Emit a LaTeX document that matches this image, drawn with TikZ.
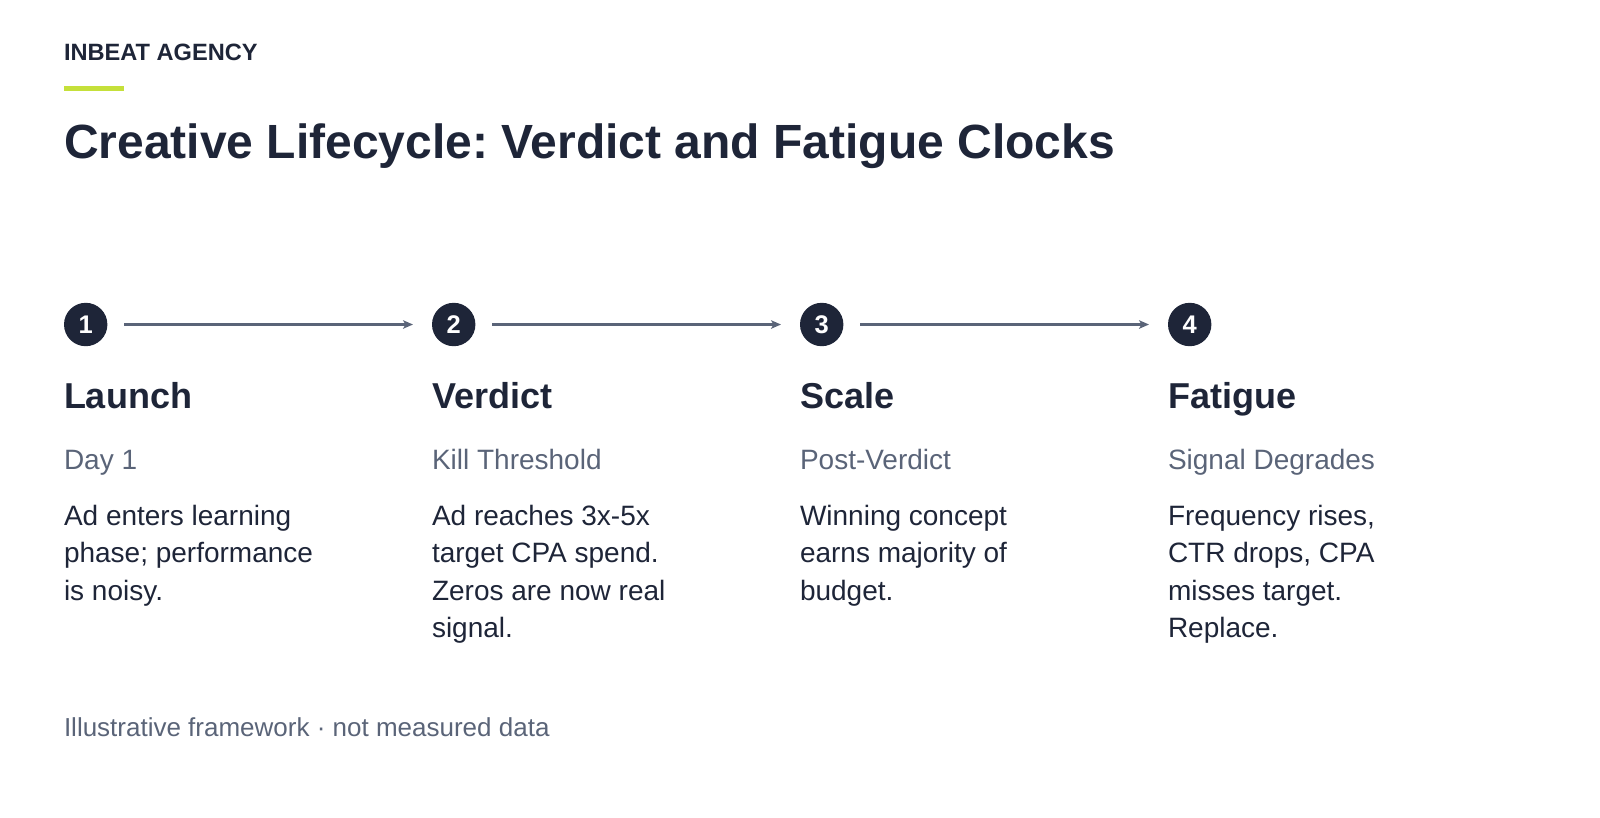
\documentclass[tikz,border=0pt]{standalone}
\usepackage{fontspec}
\setmainfont{Liberation Sans}
\usetikzlibrary{arrows.meta}
\definecolor{ink}{HTML}{1E2538}
\definecolor{muted}{HTML}{5A6478}
\definecolor{lime}{HTML}{C5E03A}
\frenchspacing
\tikzset{
  txt/.style={anchor=base west, inner sep=0pt, outer sep=0pt, text=ink},
  stepnum/.style={circle, fill=ink, minimum size=43.4pt, inner sep=0pt, text=white, font=\fontsize{25.5}{30}\selectfont\bfseries},
  stephead/.style={txt, font=\fontsize{36}{42}\selectfont\bfseries},
  stepsub/.style={txt, text=muted, font=\fontsize{28}{33}\selectfont},
  stepbody/.style={inner sep=0pt, outer sep=0pt, text=ink, anchor=north west, align=left, font=\fontsize{28}{37.5}\selectfont},
  flow/.style={draw=muted, line width=2.6pt, -{Stealth[length=10pt,width=8.5pt,inset=2.5pt]}},
}
\newcommand{\firstline}{\rule{0pt}{25pt}}
\begin{document}
\begin{tikzpicture}[x=1pt,y=-1pt]
\useasboundingbox (0,0) rectangle (1600,817);
\node[txt, font=\fontsize{23.6}{28}\selectfont\bfseries] (brand) at (64,60) {INBEAT AGENCY};
\fill[lime] (64,86) rectangle (124,91);
\node[txt, font=\fontsize{48}{56}\selectfont\bfseries] (title) at (64,158) {Creative Lifecycle: Verdict and Fatigue Clocks};

\node[stepnum] (c1) at (85.7,324.5) {1};
\node[stepnum] (c2) at (453.7,324.5) {2};
\node[stepnum] (c3) at (821.7,324.5) {3};
\node[stepnum] (c4) at (1189.7,324.5) {4};
\coordinate (a1s) at (124,324.5); \coordinate (a1e) at (413,324.5);
\coordinate (a2s) at (492,324.5); \coordinate (a2e) at (781,324.5);
\coordinate (a3s) at (860,324.5); \coordinate (a3e) at (1149,324.5);
\draw[flow] (a1s) -- (a1e);
\draw[flow] (a2s) -- (a2e);
\draw[flow] (a3s) -- (a3e);

\node[stephead] (h1) at (64,408) {Launch};
\node[stephead] (h2) at (432,408) {Verdict};
\node[stephead] (h3) at (800,408) {Scale};
\node[stephead] (h4) at (1168,408) {Fatigue};

\node[stepsub] (s1) at (64,469) {Day 1};
\node[stepsub] (s2) at (432,469) {Kill Threshold};
\node[stepsub] (s3) at (800,469) {Post-Verdict};
\node[stepsub] (s4) at (1168,469) {Signal Degrades};

\node[stepbody] (b1) at (64,500) {\firstline Ad enters learning\\phase; performance\\is noisy.};
\node[stepbody] (b2) at (432,500) {\firstline Ad reaches 3x-5x\\target CPA spend.\\Zeros are now real\\signal.};
\node[stepbody] (b3) at (800,500) {\firstline Winning concept\\earns majority of\\budget.};
\node[stepbody] (b4) at (1168,500) {\firstline Frequency rises,\\CTR drops, CPA\\misses target.\\Replace.};

\node[txt, text=muted, font=\fontsize{26}{31}\selectfont] (foot) at (64,736) {Illustrative framework · not measured data};
\end{tikzpicture}
\end{document}
